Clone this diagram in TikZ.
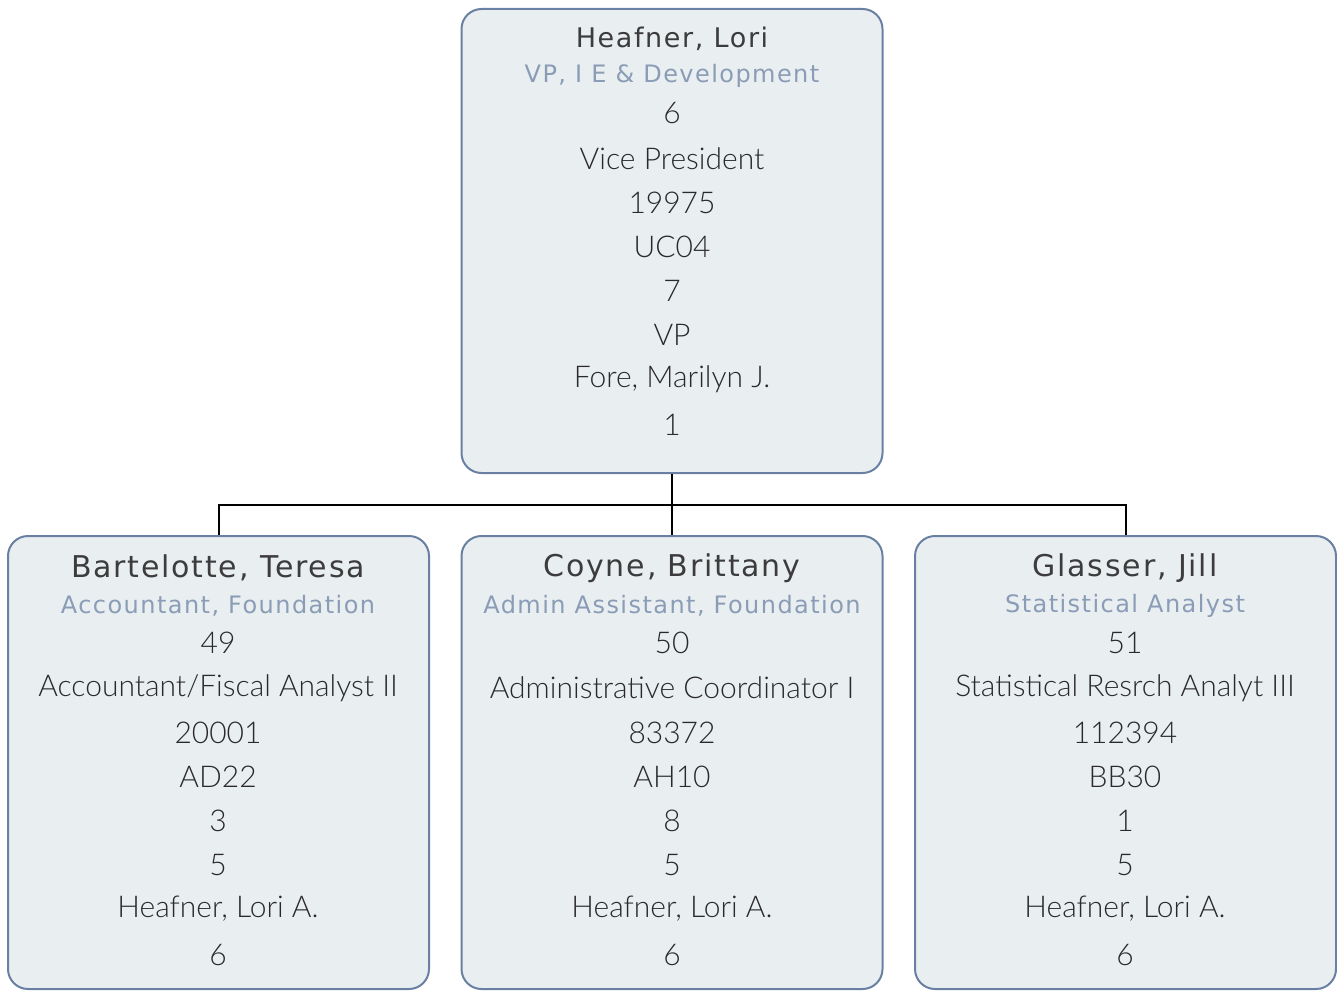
\documentclass[tikz,border=0pt]{standalone}
\usepackage{fontspec}
\setmainfont{Lato}
\newfontfamily\namefont[LetterSpace=6]{DejaVu Sans}
\newfontfamily\titlefont[LetterSpace=6]{DejaVu Sans}
\newfontfamily\datafont{Lato}[UprightFont=* Light]
\definecolor{cardfill}{HTML}{E9EEF1}
\definecolor{cardborder}{HTML}{6A80A3}
\definecolor{namecol}{HTML}{3C3C3C}
\definecolor{titlecol}{HTML}{8A9CB6}
\definecolor{datacol}{HTML}{2A2A2A}
\tikzset{
  card/.style={draw=cardborder, fill=cardfill, line width=2pt, rounded corners=20pt, inner sep=0pt, minimum width=421pt},
  nm/.style={font=\namefont\fontsize{30}{34}\selectfont, text=namecol, inner sep=0pt},
  topnm/.style={font=\namefont\fontsize{27}{31}\selectfont, text=namecol, inner sep=0pt},
  tt/.style={font=\titlefont\fontsize{24}{28}\selectfont, text=titlecol, inner sep=0pt},
  dt/.style={font=\datafont\fontsize{30}{34}\selectfont, text=datacol, inner sep=0pt},
  link/.style={draw=black, line width=2pt}
}
\begin{document}
\begin{tikzpicture}[x=1pt,y=-1pt]
\useasboundingbox (0,0) rectangle (1337,990);
% cards
\node[card, minimum height=464pt] (top) at (672,241) {};
\node[card, minimum height=453pt] (bl) at (218.5,762.5) {};
\node[card, minimum height=453pt] (bm) at (672,762.5) {};
\node[card, minimum height=453pt] (br) at (1125.5,762.5) {};
% connectors
\coordinate (j) at (672,505);
\draw[link] (top.south) -- (j);
\draw[link] (j) -| (bl.north);
\draw[link] (j) -- (bm.north);
\draw[link] (j) -| (br.north);
% top card text
\node[topnm] (t1) at (672,39) {Heafner, Lori};
\node[tt] (t2) at (672,76) {VP, I E \& Development};
\node[dt] (t3) at (672,113) {6};
\node[dt] (t4) at (672,159) {Vice President};
\node[dt] (t5) at (672,203) {19975};
\node[dt] (t6) at (672,247) {UC04};
\node[dt] (t7) at (672,291) {7};
\node[dt] (t8) at (672,335) {VP};
\node[dt] (t9) at (672,379) {Fore, Marilyn J.};
\node[dt] (t10) at (672,425) {1};
% bottom left
\node[nm] (a1) at (218,568) {Bartelotte, Teresa};
\node[tt] (a2) at (218,606) {Accountant, Foundation};
\node[dt] (a3) at (218,643) {49};
\node[dt] (a4) at (218,688) {Accountant/Fiscal Analyst II};
\node[dt] (a5) at (218,733) {20001};
\node[dt] (a6) at (218,777) {AD22};
\node[dt] (a7) at (218,821) {3};
\node[dt] (a8) at (218,865) {5};
\node[dt] (a9) at (218,909) {Heafner, Lori A.};
\node[dt] (a10) at (218,955) {6};
% bottom middle
\node[nm] (b1) at (672,568) {Coyne, Brittany};
\node[tt] (b2) at (672,606) {Admin Assistant, Foundation};
\node[dt] (b3) at (672,643) {50};
\node[dt] (b4) at (672,688) {Administrative Coordinator I};
\node[dt] (b5) at (672,733) {83372};
\node[dt] (b6) at (672,777) {AH10};
\node[dt] (b7) at (672,821) {8};
\node[dt] (b8) at (672,865) {5};
\node[dt] (b9) at (672,909) {Heafner, Lori A.};
\node[dt] (b10) at (672,955) {6};
% bottom right
\node[nm] (c1) at (1125,568) {Glasser, Jill};
\node[tt] (c2) at (1125,606) {Statistical Analyst};
\node[dt] (c3) at (1125,643) {51};
\node[dt] (c4) at (1125,688) {Statistical Resrch Analyt III};
\node[dt] (c5) at (1125,733) {112394};
\node[dt] (c6) at (1125,777) {BB30};
\node[dt] (c7) at (1125,821) {1};
\node[dt] (c8) at (1125,865) {5};
\node[dt] (c9) at (1125,909) {Heafner, Lori A.};
\node[dt] (c10) at (1125,955) {6};
\end{tikzpicture}
\end{document}
